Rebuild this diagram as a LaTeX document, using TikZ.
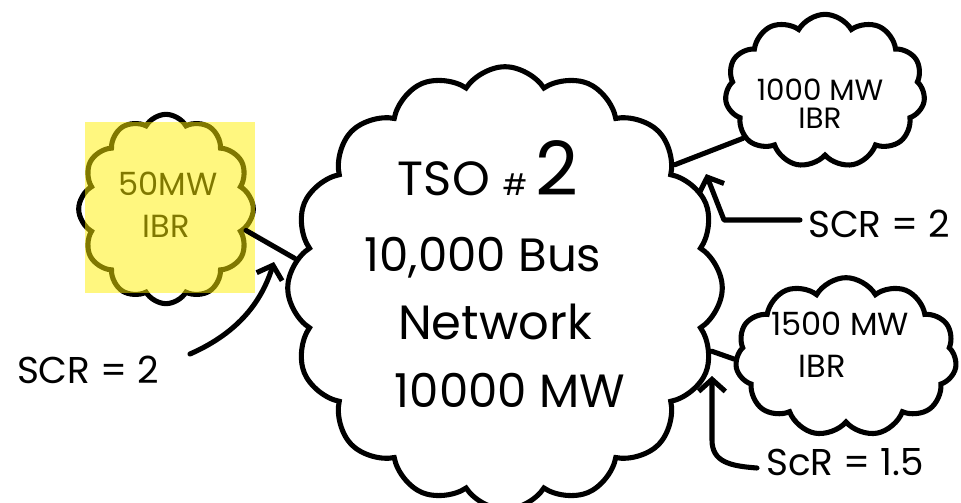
\documentclass[tikz,border=0pt]{standalone}
\usepackage{fontspec}
\setmainfont{Poppins}
\usetikzlibrary{shapes.symbols,arrows.meta}
\definecolor{hl}{RGB}{255,240,0}
\tikzset{
  cl/.style={cloud, draw=black, line width=3.8pt, cloud ignores aspect, inner sep=0pt},
  wire/.style={draw=black, line width=3.8pt, line cap=round},
  arr/.style={draw=black, line width=3.8pt, line cap=round, line join=round,
    -{Straight Barb[length=9pt,width=20pt]}},
  txt/.style={inner sep=0pt, text=black},
}
\begin{document}
\begin{tikzpicture}[x=0.75pt,y=-0.75pt]
\useasboundingbox (0,0) rectangle (961,503);
% clouds
\node[cl, cloud puffs=16, cloud puff arc=115, minimum width=326pt, minimum height=332pt] (tso) at (505,288) {};
\node[cl, cloud puffs=12, cloud puff arc=120, minimum width=131pt, minimum height=142pt] (ibrA) at (166,209) {};
\node[cl, cloud puffs=11, cloud puff arc=120, minimum width=150pt, minimum height=115pt] (ibrB) at (825,91) {};
\node[cl, cloud puffs=11, cloud puff arc=120, minimum width=166pt, minimum height=119pt] (ibrC) at (846,357) {};
% texts
\node[txt, font=\fontsize{36}{36}\selectfont] (t1) at (488,168) {TSO {\fontsize{22}{22}\selectfont\#}\,{\fontsize{56}{56}\selectfont 2}};
\node[txt, font=\fontsize{35}{35}\selectfont] (t2) at (483,258) {10,000 Bus};
\node[txt, font=\fontsize{36}{36}\selectfont] (t3) at (495,322) {Network};
\node[txt, font=\fontsize{35}{35}\selectfont] (t4) at (510,390) {10000 MW};
\node[txt, font=\fontsize{24}{24}\selectfont] (a1) at (168,184) {50MW};
\node[txt, font=\fontsize{24}{24}\selectfont] (a2) at (166,226) {IBR};
\node[txt, font=\fontsize{22}{22}\selectfont] (b1) at (820,90) {1000 MW};
\node[txt, font=\fontsize{22}{22}\selectfont] (b2) at (820,118) {IBR};
\node[txt, font=\fontsize{24}{24}\selectfont] (c1) at (840,324) {1500 MW};
\node[txt, font=\fontsize{24}{24}\selectfont] (c2) at (822,366) {IBR};
\node[txt, font=\fontsize{28}{28}\selectfont] (scrA) at (88,370) {SCR = 2};
\node[txt, font=\fontsize{28}{28}\selectfont] (scrB) at (879,224) {SCR = 2};
\node[txt, font=\fontsize{28}{28}\selectfont] (scrC) at (845,462) {ScR = 1.5};
% highlight
\fill[hl, fill opacity=0.5] (85,122) rectangle (255,293);
% connectors
\draw[wire] (ibrA.-15) -- (tso.172);
\draw[wire] (tso.36) -- (ibrB.-150);
\draw[wire] (tso.-17) -- (ibrC.181);
% arrows
\coordinate (sA) at (190,354);
\coordinate (eA) at (274,262);
\draw[arr] (sA) .. controls (240,332) and (262,300) .. (eA);
\coordinate (sB) at (800,220);
\coordinate (eB) at (706,174);
\draw[arr] (sB) -- (724,220) -- (eB);
\coordinate (sC) at (757,468);
\coordinate (eC) at (712,376);
\draw[arr] (sC) .. controls (730,466) and (712,462) .. (712,440) -- (eC);
\end{tikzpicture}
\end{document}
